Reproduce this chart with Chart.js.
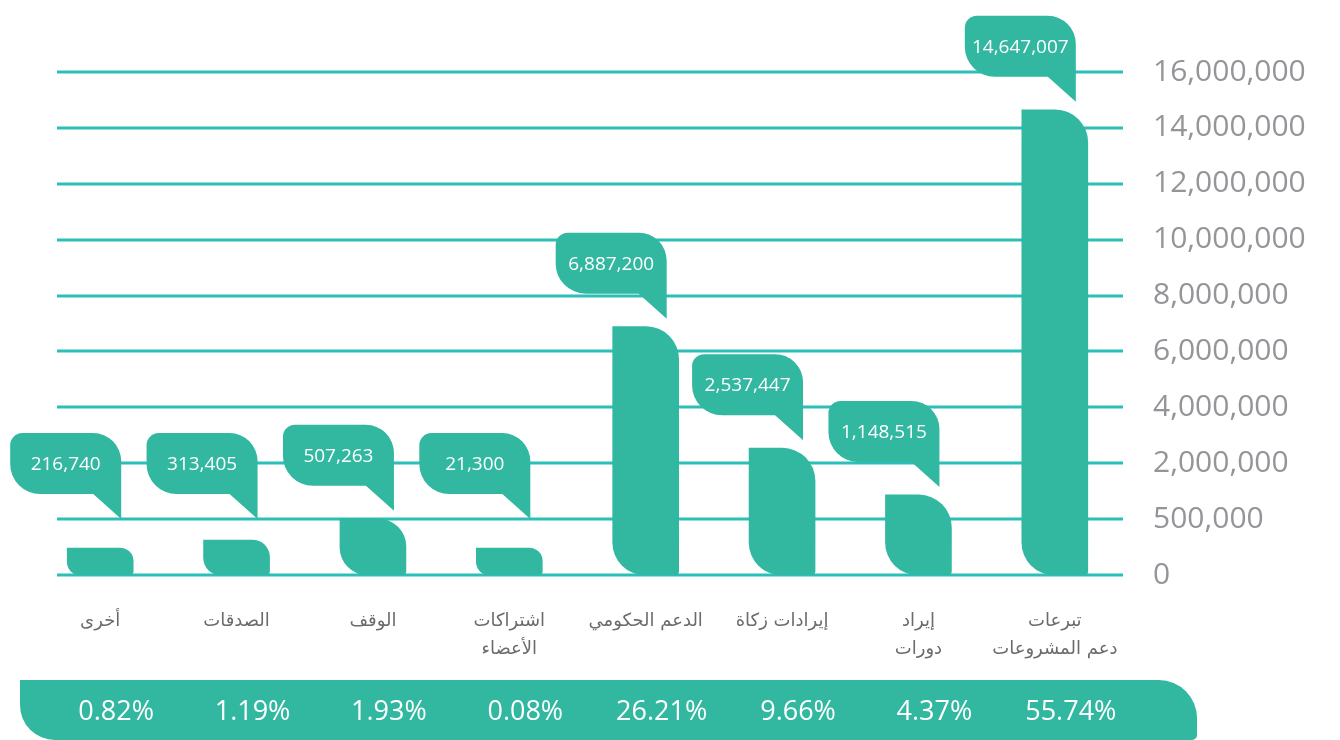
<!DOCTYPE html>
<html lang="ar">
<head>
<meta charset="utf-8">
<title>مصادر الإيرادات</title>
<script src="https://cdn.jsdelivr.net/npm/chart.js@4.4.0/dist/chart.umd.min.js"></script>
<style>
    html, body { margin: 0; padding: 0; background: #fff; }
    #contenedor { width: 1340px; height: 740px; position: relative; }
</style>
</head>
<body>
<div id="contenedor"><canvas id="grafico"></canvas></div>
<script>
// Datos de los ingresos
const categorias = [
    ['أخرى'],
    ['الصدقات'],
    ['الوقف'],
    ['اشتراكات', 'الأعضاء'],
    ['الدعم الحكومي'],
    ['إيرادات زكاة'],
    ['إيراد', 'دورات'],
    ['تبرعات', 'دعم المشروعات']
];
const montos = [216740, 313405, 507263, 21300, 6887200, 2537447, 1148515, 14647007];
const porcentajes = [0.82, 1.19, 1.93, 0.08, 26.21, 9.66, 4.37, 55.74];
const marcasY = [0, 500000, 2000000, 4000000, 6000000, 8000000, 10000000, 12000000, 14000000, 16000000];

const VERDE = '#32b8a0';
const LINEA = '#2bbfb7';

// Escala por tramos: cada marca queda a la misma distancia de la siguiente
class EscalaTramos extends Chart.LinearScale {
    determineDataLimits() {
        this.min = marcasY[0];
        this.max = marcasY[marcasY.length - 1];
    }
    buildTicks() {
        return marcasY.map(v => ({ value: v }));
    }
    getPixelForValue(valor) {
        let i = 0;
        while (i < marcasY.length - 2 && valor > marcasY[i + 1]) i++;
        const frac = (valor - marcasY[i]) / (marcasY[i + 1] - marcasY[i]);
        return this.getPixelForDecimal((i + frac) / (marcasY.length - 1));
    }
    getValueForPixel(pixel) {
        const d = this.getDecimalForPixel(pixel) * (marcasY.length - 1);
        const i = Math.min(Math.floor(d), marcasY.length - 2);
        return marcasY[i] + (d - i) * (marcasY[i + 1] - marcasY[i]);
    }
}
EscalaTramos.id = 'tramos';
EscalaTramos.defaults = Chart.LinearScale.defaults;
Chart.register(EscalaTramos);

// Líneas horizontales detrás de las barras
const lineasFondo = {
    id: 'lineasFondo',
    beforeDatasetsDraw(chart) {
        const { ctx, chartArea, scales: { y } } = chart;
        ctx.save();
        ctx.strokeStyle = LINEA;
        ctx.lineWidth = 3;
        y.ticks.forEach(t => {
            const py = Math.round(y.getPixelForValue(t.value));
            ctx.beginPath();
            ctx.moveTo(57, py);
            ctx.lineTo(chartArea.right, py);
            ctx.stroke();
        });
        ctx.restore();
    }
};

function dibujarGlobo(ctx, derecha, puntaY, texto) {
    const ancho = 111, alto = 61, cola = 25;
    const izq = derecha - ancho;
    const abajo = puntaY - cola;
    const arriba = abajo - alto;

    ctx.beginPath();
    ctx.moveTo(izq + 12, arriba);
    ctx.lineTo(derecha - 28, arriba);
    ctx.arcTo(derecha, arriba, derecha, arriba + 28, 28);
    ctx.lineTo(derecha, puntaY);
    ctx.lineTo(derecha - 28, abajo);
    ctx.lineTo(izq + 30, abajo);
    ctx.arcTo(izq, abajo, izq, abajo - 30, 30);
    ctx.lineTo(izq, arriba + 12);
    ctx.arcTo(izq, arriba, izq + 12, arriba, 12);
    ctx.closePath();
    ctx.fillStyle = VERDE;
    ctx.fill();

    ctx.fillStyle = '#ffffff';
    ctx.font = '19px "Open Sans"';
    ctx.textAlign = 'center';
    ctx.textBaseline = 'middle';
    ctx.fillText(texto, izq + ancho / 2, arriba + alto / 2 + 1);
}

// Globos con el monto y franja inferior con los porcentajes
const etiquetas = {
    id: 'etiquetas',
    afterDatasetsDraw(chart) {
        const { ctx, scales: { y } } = chart;
        const barras = chart.getDatasetMeta(0).data;
        const limite = y.getPixelForValue(500000);
        ctx.save();
        barras.forEach((barra, i) => {
            const puntaY = Math.min(barra.y - 8, limite);
            dibujarGlobo(ctx, barra.x + 21, puntaY, montos[i].toLocaleString('en-US'));
        });

        // franja
        const izq = 20, der = 1197, arriba = 680, abajo = 740;
        ctx.beginPath();
        ctx.moveTo(izq, arriba);
        ctx.lineTo(der - 38, arriba);
        ctx.arcTo(der, arriba, der, arriba + 38, 38);
        ctx.lineTo(der, abajo - 5);
        ctx.arcTo(der, abajo, der - 5, abajo, 5);
        ctx.lineTo(izq + 35, abajo);
        ctx.arcTo(izq, abajo, izq, abajo - 35, 35);
        ctx.closePath();
        ctx.fillStyle = VERDE;
        ctx.fill();

        ctx.fillStyle = '#ffffff';
        ctx.font = '27px "Open Sans"';
        ctx.textAlign = 'center';
        ctx.textBaseline = 'middle';
        barras.forEach((barra, i) => {
            ctx.fillText(porcentajes[i].toFixed(2) + '%', barra.x + 16, 712);
        });
        ctx.restore();
    }
};

const ctx = document.getElementById('grafico').getContext('2d');
new Chart(ctx, {
    type: 'bar',
    data: {
        labels: categorias,
        datasets: [{
            data: montos,
            backgroundColor: VERDE,
            barThickness: 66,
            minBarLength: 27,
            borderSkipped: false,
            borderRadius: { topLeft: 0, topRight: 34, bottomLeft: 34, bottomRight: 4 }
        }]
    },
    options: {
        responsive: true,
        maintainAspectRatio: false,
        animation: false,
        events: [],
        layout: { padding: { left: 32, top: 72, right: 0, bottom: 0 } },
        plugins: {
            legend: { display: false },
            tooltip: { enabled: false }
        },
        scales: {
            x: {
                grid: { display: false, drawTicks: false },
                border: { display: false },
                ticks: {
                    autoSkip: false,
                    maxRotation: 0,
                    padding: 32,
                    color: '#6a6b6e',
                    font: { family: '"DejaVu Sans"', size: 18, lineHeight: 1.56 }
                },
                afterFit: s => { s.height = 165; }
            },
            y: {
                type: 'tramos',
                position: 'right',
                grid: { display: false, drawTicks: false },
                border: { display: false },
                ticks: {
                    autoSkip: false,
                    crossAlign: 'near',
                    padding: 30,
                    color: '#939598',
                    font: { family: '"Open Sans"', size: 30 },
                    callback: v => v.toLocaleString('en-US')
                },
                afterFit: s => { s.width = 217; }
            }
        }
    },
    plugins: [lineasFondo, etiquetas]
});
</script>
</body>
</html>
